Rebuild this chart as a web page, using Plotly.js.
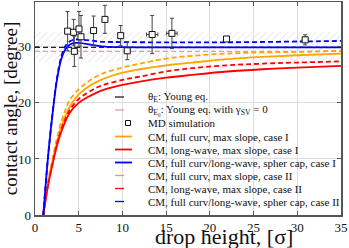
<!DOCTYPE html>
<html>
<head>
<meta charset="utf-8">
<script src="https://cdn.plot.ly/plotly-3.0.1.min.js"></script>
<style>html,body{margin:0;padding:0;background:#fff;}#chart{width:349px;height:248px;}</style>
</head>
<body>
<div id="chart"></div>
<script>
// ---- data ----
const bandLow = 27.3, bandHigh = 32.7;      // hatched uncertainty band of theta_E
const thetaE = 29.9;                         // Young eq.
const thetaE0 = 29.2;                        // Young eq. with gamma_SV = 0
const xRange = [0, 35];

// MD simulation points
const mdX    = [3.73, 4.42, 4.5, 5.03, 5.26, 6.7, 8.0, 9.8, 10.55, 13.4, 15.66, 21.9, 30.9];
const mdY    = [32.8, 32.6, 29.2, 33.2, 31.8, 32.9, 34.9, 32.0, 29.3, 32.2, 32.4, 31.4, 31.25];
const mdErrY = [3.5, 2.3, 2.7, 3.1, 3.8, 2.6, 2.5, 1.8, 1.6, 3.4, 2.7, 0.2, 0.9];
const mdErrX = [0, 0, 0, 0, 0, 0, 0, 0, 0.3, 0.65, 0.6, 0.1, 0.3];

// CM curves, max slope (orange = full curv, red = long-wave)
const msX          = [0.95, 1.2, 1.5, 2, 2.5, 3, 3.5, 4, 5, 6, 7, 8, 10, 12, 15, 18, 22, 26, 30, 35];
const orangeI      = [0, 2.7, 5.8, 9.6, 13.0, 15.8, 17.8, 19.4, 21.5, 22.8, 23.7, 24.4, 25.4, 26.0, 26.7, 27.2, 27.8, 28.2, 28.5, 28.8];
const redI         = [0, 2.5, 5.3, 9.0, 12.3, 14.8, 16.8, 18.3, 20.0, 21.0, 21.8, 22.4, 23.2, 23.8, 24.5, 25.0, 25.6, 26.0, 26.3, 26.6];
const orangeII     = [0, 2.8, 6.0, 10.0, 13.6, 16.6, 18.8, 20.6, 22.4, 23.7, 24.7, 25.4, 26.3, 27.0, 27.9, 28.4, 28.8, 29.0, 29.1, 29.3];
const redII        = [0, 2.6, 5.5, 9.2, 12.6, 15.2, 17.2, 18.8, 20.7, 21.8, 22.7, 23.3, 24.1, 24.7, 25.6, 26.2, 26.7, 27.0, 27.2, 27.4];

// CM curves, spherical cap (blue)
const scX          = [0.95, 1.2, 1.5, 2, 2.5, 3, 3.5, 4, 4.5, 5, 6, 7, 8, 10, 15, 20, 25, 30, 35];
const blueI        = [0, 5, 10.5, 18, 24, 27.8, 29.6, 30.4, 30.7, 30.7, 30.5, 30.2, 30.05, 29.95, 29.9, 29.9, 29.9, 29.9, 29.9];
const blueII       = [0, 5, 10.5, 18, 24.3, 28.2, 30.2, 31.0, 31.3, 31.3, 31.2, 31.0, 30.9, 30.85, 30.8, 30.8, 30.85, 30.95, 31.05];

const xTitle = "drop height, [σ]";
const yTitle = "contact angle, [degree]";
const legendLabels = [
  "θ<sub>E</sub>: Young eq.",
  "θ<sub>E₀</sub>: Young eq. with γ<sub>SV</sub> = 0",
  "MD simulation",
  "CM, full curv, max slope, case I",
  "CM, long-wave, max slope, case I",
  "CM, full curv/long-wave, spher cap, case I",
  "CM, full curv, max slope, case II",
  "CM, long-wave, max slope, case II",
  "CM, full curv/long-wave, spher cap, case II"
];

// ---- styles ----
const ORANGE = "#ffa500", RED = "#ff0000", BLUE = "#0000ff";
const BLACKD = "#222222", PINK = "#d4a6a6";
const DASH = "5px,3px";
const FONT = "Liberation Serif, Times New Roman, serif";

const traces = [
  {x: [xRange[0], xRange[1], xRange[1], xRange[0]], y: [bandLow, bandLow, bandHigh, bandHigh],
   type: "scatter", mode: "lines", fill: "toself", line: {width: 0, color: "rgba(0,0,0,0)"},
   fillcolor: "rgba(255,255,255,0)",
   fillpattern: {shape: "/", fgcolor: "#d2d2d2", bgcolor: "rgba(255,255,255,0)", size: 5, solidity: 0.12},
   hoverinfo: "skip", showlegend: false},
  {x: xRange, y: [thetaE, thetaE], mode: "lines", line: {color: BLACKD, width: 1.2, dash: DASH}, showlegend: false},
  {x: xRange, y: [thetaE0, thetaE0], mode: "lines", line: {color: PINK, width: 1.2, dash: DASH}, showlegend: false},
  {x: msX, y: orangeI, mode: "lines", line: {color: ORANGE, width: 1.8, shape: "spline"}, showlegend: false},
  {x: msX, y: redI, mode: "lines", line: {color: RED, width: 1.8, shape: "spline"}, showlegend: false},
  {x: msX, y: orangeII, mode: "lines", line: {color: ORANGE, width: 1.8, dash: DASH, shape: "spline"}, showlegend: false},
  {x: msX, y: redII, mode: "lines", line: {color: RED, width: 1.8, dash: DASH, shape: "spline"}, showlegend: false},
  {x: scX, y: blueII, mode: "lines", line: {color: BLUE, width: 1.8, dash: DASH, shape: "spline"}, showlegend: false},
  {x: scX, y: blueI, mode: "lines", line: {color: BLUE, width: 1.8, shape: "spline"}, showlegend: false},
  {x: mdX, y: mdY, mode: "markers", type: "scatter",
   marker: {symbol: "square", size: 6, color: "#ffffff", line: {color: "#111", width: 1}},
   error_y: {type: "data", array: mdErrY, visible: true, color: "#444", thickness: 1, width: 2},
   error_x: {type: "data", array: mdErrX, visible: true, color: "#444", thickness: 1, width: 2},
   showlegend: false}
];

// ---- hand-made legend (compact row spacing like the reference) ----
const rowsPx = [97, 110, 123, 136.5, 149.5, 162.5, 175.5, 188.5, 201.5];
const plotL = 35, plotR = 341, plotT = 2, plotB = 215;
const px2x = p => (p - plotL) / (plotR - plotL);
const px2y = p => (plotB - p) / (plotB - plotT);
const symStyles = [
  {color: BLACKD, dash: "dash"}, {color: PINK, dash: "dash"}, null,
  {color: ORANGE, dash: "solid"}, {color: RED, dash: "solid"}, {color: BLUE, dash: "solid"},
  {color: ORANGE, dash: "dash"}, {color: RED, dash: "dash"}, {color: BLUE, dash: "dash"}
];
const shapes = [
  {type: "rect", xref: "paper", yref: "paper", x0: px2x(112), x1: px2x(338), y0: px2y(208), y1: px2y(88),
   fillcolor: "#ffffff", line: {width: 0}, layer: "between"}
];
const annotations = [];
rowsPx.forEach((r, i) => {
  const st = symStyles[i];
  if (st) {
    shapes.push({type: "line", xref: "paper", yref: "paper", x0: px2x(115), x1: px2x(132), y0: px2y(r), y1: px2y(r),
      line: {color: st.color, width: st.dash === "solid" ? 1.8 : 1.3, dash: st.dash}});
  } else {
    shapes.push({type: "rect", xref: "paper", yref: "paper", x0: px2x(125.5), x1: px2x(130.5), y0: px2y(r + 2.5), y1: px2y(r - 2.5),
      fillcolor: "#fff", line: {color: "#111", width: 1}});
  }
  annotations.push({xref: "paper", yref: "paper", x: px2x(146), y: px2y(r), xanchor: "left", yanchor: "middle",
    text: legendLabels[i], showarrow: false, font: {family: FONT, size: 11, color: "#111"}});
});
// x-axis title (large, right of centre, at the bottom edge as in the reference)
annotations.push({xref: "paper", yref: "paper", x: px2x(224), y: px2y(236), xanchor: "center", yanchor: "middle",
  text: xTitle, showarrow: false, font: {family: FONT, size: 22, color: "#111"}});

const axisCommon = {
  showline: true, linecolor: "#555", linewidth: 1.5, mirror: "allticks",
  ticks: "inside", ticklen: 4, tickcolor: "#555", tickwidth: 1,
  showgrid: true, gridcolor: "#dddddd", gridwidth: 1, zeroline: false,
  tickfont: {family: FONT, size: 13, color: "#111"}
};

const layout = {
  width: 349, height: 248,
  margin: {l: 35, r: 8, t: 2, b: 33},
  paper_bgcolor: "#fff", plot_bgcolor: "#fff",
  showlegend: false,
  xaxis: Object.assign({}, axisCommon, {range: xRange, dtick: 5, tick0: 0}),
  yaxis: Object.assign({}, axisCommon, {range: [0, 38], dtick: 10, tick0: 0,
    title: {text: yTitle, font: {family: FONT, size: 19, color: "#111"}, standoff: 2}}),
  shapes: shapes,
  annotations: annotations
};

Plotly.newPlot("chart", traces, layout, {staticPlot: true, displayModeBar: false});
</script>
</body>
</html>
